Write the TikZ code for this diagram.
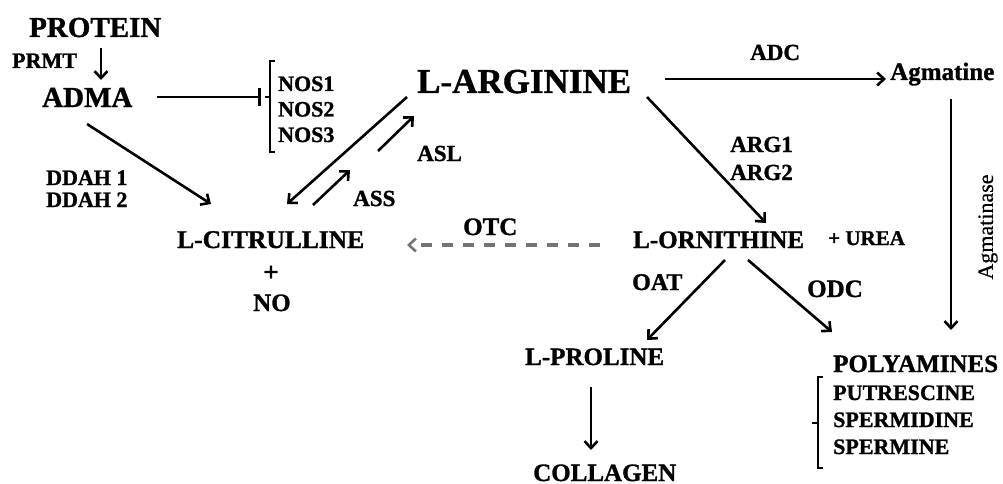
\documentclass[tikz,border=0pt]{standalone}
\usepackage{fontspec}
\setmainfont{Liberation Serif}
\newfontfamily\boldserif{Liberation Serif Bold}[FakeBold=1.2]
\newfontfamily\regserif{Liberation Serif}[FakeBold=0.6]
\usetikzlibrary{arrows.meta}
\tikzset{
  lbl/.style={inner sep=0pt, anchor=base west, font=\boldserif\fontsize{#1}{#1}\selectfont},
  lbl/.default=22,
  conn/.style={line width=2.6pt, -{Straight Barb[length=7pt,width=13pt,line width=2.6pt]}},
  plain/.style={line width=2.6pt},
  brk/.style={line width=2.2pt},
}
\definecolor{dashgray}{RGB}{115,115,115}
\begin{document}
\begin{tikzpicture}[x=1pt,y=-1pt]
\useasboundingbox (0,0) rectangle (1003,484);
% texts
\node[lbl=29] (protein) at (29,37) {PROTEIN};
\node[lbl=22] (prmt) at (12,68) {PRMT};
\node[lbl=29] (adma) at (42,107) {ADMA};
\node[lbl=22] (nos1) at (278,91) {NOS1};
\node[lbl=22] (nos2) at (278,116.5) {NOS2};
\node[lbl=22] (nos3) at (278,142) {NOS3};
\node[lbl=22] (ddah1) at (46,185) {DDAH 1};
\node[lbl=22] (ddah2) at (46,207) {DDAH 2};
\node[lbl=35] (arg) at (417,93) {L-ARGININE};
\node[lbl=23] (asl) at (417,161) {ASL};
\node[lbl=23] (ass) at (353,206) {ASS};
\node[lbl=25.5] (cit) at (177,248) {L-CITRULLINE};
\node[lbl=27, anchor=base] (plus) at (271,281) {+};
\node[lbl=25] (no) at (253,311) {NO};
\node[lbl=25] (otc) at (463,235) {OTC};
\node[lbl=23] (adc) at (750,60) {ADC};
\node[lbl=25] (agm) at (890,80) {Agmatine};
\node[lbl=23] (arg1) at (730,152) {ARG1};
\node[lbl=23] (arg2) at (730,180) {ARG2};
\node[lbl=25] (orn) at (633,248) {L-ORNITHINE};
\node[lbl=21] (urea) at (828,245) {+ UREA};
\node[lbl=24] (oat) at (632,290) {OAT};
\node[lbl=25] (odc) at (807,297) {ODC};
\node[lbl=25] (pro) at (525,365) {L-PROLINE};
\node[lbl=25] (col) at (533,481) {COLLAGEN};
\node[lbl=25] (poly) at (833,372) {POLYAMINES};
\node[lbl=22] (put) at (833,400) {PUTRESCINE};
\node[lbl=22] (spd) at (833,427) {SPERMIDINE};
\node[lbl=22] (spm) at (833,454) {SPERMINE};
\node[inner sep=0pt, rotate=90, font=\regserif\fontsize{22}{22}\selectfont] (agmase) at (988,227) {Agmatinase};
% connector end points
\coordinate (p1) at (101,48);   \coordinate (p2) at (101,80);
\coordinate (i1) at (157,97);   \coordinate (i2) at (259,97);
\coordinate (d1) at (87,124);   \coordinate (d2) at (211,204);
\coordinate (a1) at (407,97);   \coordinate (a2) at (287,204);
\coordinate (l1) at (378,151);  \coordinate (l2) at (414,116);
\coordinate (s1) at (313,205);  \coordinate (s2) at (350,170);
\coordinate (c1) at (665,79);   \coordinate (c2) at (886,79);
\coordinate (r1) at (647,97);   \coordinate (r2) at (766,223);
\coordinate (g1) at (951,99);   \coordinate (g2) at (951,330);
\coordinate (o1) at (600,245);  \coordinate (o2) at (407,245);
\coordinate (t1) at (725,260);  \coordinate (t2) at (647,340);
\coordinate (e1) at (748,260);  \coordinate (e2) at (832,332);
\coordinate (k1) at (591,387);  \coordinate (k2) at (591,450);
% connectors
\draw[conn] (p1) -- (p2);
\draw[plain] (i1) -- (i2);
\draw[line width=3pt] ([yshift=-9]i2) -- ([yshift=9]i2);
\draw[conn] (d1) -- (d2);
\draw[conn] (a1) -- (a2);
\draw[conn] (l1) -- (l2);
\draw[conn] (s1) -- (s2);
\draw[conn] (c1) -- (c2);
\draw[conn] (r1) -- (r2);
\draw[conn] (g1) -- (g2);
\draw[line width=3.2pt, dashgray, dash pattern=on 11pt off 10pt, -{Straight Barb[length=7pt,width=13pt,line width=2.6pt]}] (o1) -- (o2);
\draw[conn] (t1) -- (t2);
\draw[conn] (e1) -- (e2);
\draw[conn] (k1) -- (k2);
% brackets
\draw[brk] (275,61) -- (270,61) -- (270,152) -- (275,152);
\draw[brk] (270,97) -- (265,97);
\draw[brk] (823,377) -- (818,377) -- (818,468) -- (823,468);
\draw[brk] (818,423) -- (812,423);
\end{tikzpicture}
\end{document}
